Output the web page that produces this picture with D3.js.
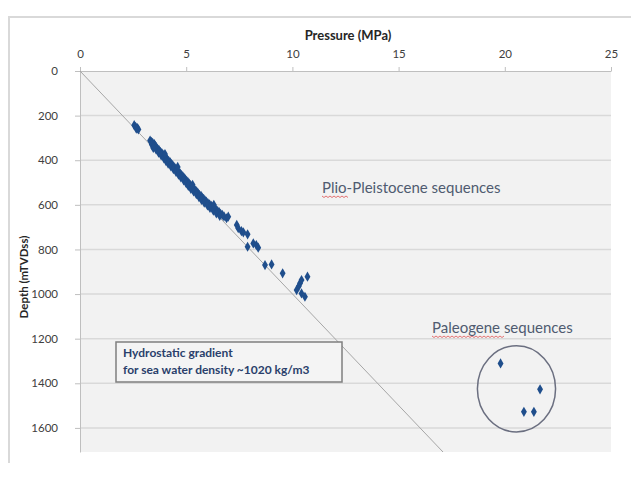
<!DOCTYPE html>
<html>
<head>
<meta charset="utf-8">
<script src="https://cdn.jsdelivr.net/npm/d3@7"></script>
<style>
  body { margin: 0; background: #fff; }
  text { font-family: Lato, "Open Sans", sans-serif; }
</style>
</head>
<body>
<script>
var width = 631,
    height = 479;

// pressure ticks (MPa) and depth ticks (mTVDss)
var pressureTicks = [0, 5, 10, 15, 20, 25];
var depthTicks = [0, 200, 400, 600, 800, 1000, 1200, 1400, 1600];

// Plio-Pleistocene measurements: [pressure MPa, depth m]
var plioPressure = [
  2.55, 2.62, 2.70, 2.75, 2.65,
  3.30, 3.36, 3.42, 3.38, 3.50, 3.55, 3.48, 3.60, 3.66, 3.58, 3.72, 3.78, 3.70, 3.85, 3.90,
  3.82, 3.96, 4.02, 3.95, 4.08, 4.12, 4.05, 4.18, 4.25, 4.15, 4.30, 4.36, 4.28, 4.42, 4.48,
  4.40, 4.55, 4.60, 4.52, 4.66, 4.72, 4.64, 4.78, 4.84, 4.75, 4.90, 4.96, 4.88, 5.02, 5.08,
  5.00, 5.14, 5.20, 5.10, 5.26, 5.32, 5.22, 5.38, 5.45, 5.35, 5.50, 5.56, 5.48, 5.62, 5.70,
  5.60, 5.75, 5.82, 5.72, 5.88, 5.95, 5.85, 6.02, 6.10, 6.00, 6.18, 6.25, 6.12, 6.32, 6.40,
  6.28, 6.48, 6.55, 6.42, 6.62, 6.70, 6.58, 6.78, 3.45, 4.00, 4.60, 5.30, 6.30,
  6.90, 6.98, 7.38, 7.45, 7.60, 7.69, 7.89, 7.89, 8.16, 8.30, 8.39, 8.71, 9.02, 9.54,
  10.36, 10.43, 10.71, 10.20, 10.43, 10.59, 10.30
];
var plioDepth = [
  243, 250, 256, 262, 258,
  312, 318, 322, 330, 328, 336, 340, 342, 350, 352, 355, 362, 366, 368, 374,
  378, 380, 386, 392, 392, 398, 404, 404, 410, 415, 417, 422, 428, 430, 436,
  440, 442, 448, 452, 455, 460, 465, 467, 472, 477, 480, 486, 490, 492, 498,
  503, 505, 511, 515, 518, 524, 528, 530, 536, 540, 542, 548, 552, 555, 560,
  565, 567, 573, 578, 580, 586, 590, 592, 598, 603, 604, 610, 614, 616, 620,
  626, 628, 633, 638, 640, 645, 650, 652, 345, 372, 430, 510, 600,
  660, 653, 690, 705, 718, 723, 732, 788, 773, 780, 792, 870, 867, 907,
  952, 937, 922, 982, 997, 1012, 965
];

// Paleogene measurements
var paleoPressure = [19.8, 21.66, 20.9, 21.37];
var paleoDepth = [1311, 1427, 1528, 1528];

// hydrostatic gradient, sea water ~1020 kg/m3 (MPa per m)
var gradient = 1020 * 9.81 / 1e6;

var x = d3.scaleLinear().domain([0, 25]).range([80, 611]);
var y = d3.scaleLinear().domain([0, 1708]).range([71, 452]);

var svg = d3.select("body").append("svg")
    .attr("width", width)
    .attr("height", height);

// outer chart frame
svg.append("path")
    .attr("d", "M9,463V17H631")
    .attr("fill", "none")
    .attr("stroke", "#d9d9d9")
    .attr("stroke-width", 2);

// plot area
svg.append("rect")
    .attr("x", x(0))
    .attr("y", y(0))
    .attr("width", x(25) - x(0))
    .attr("height", y(1708) - y(0))
    .attr("fill", "#f2f2f2");

// gridlines
svg.append("g")
  .selectAll("line")
    .data(depthTicks.slice(1))
  .enter().append("line")
    .attr("x1", x(0))
    .attr("x2", x(25))
    .attr("y1", function(d) { return y(d); })
    .attr("y2", function(d) { return y(d); })
    .attr("stroke", "#d9d9d9")
    .attr("stroke-width", 1.5);

// axes
var xAxis = svg.append("g")
    .attr("transform", "translate(0," + y(0) + ")")
    .call(d3.axisTop(x).tickValues(pressureTicks).tickSize(4).tickPadding(9)
      .tickSizeOuter(0).tickFormat(d3.format("d")));

var yAxis = svg.append("g")
    .attr("transform", "translate(" + x(0) + ",0)")
    .call(d3.axisLeft(y).tickValues(depthTicks).tickSize(5).tickPadding(17)
      .tickSizeOuter(0).tickFormat(d3.format("d")));

[xAxis, yAxis].forEach(function(a) {
  a.select(".domain").attr("stroke", "#bfbfbf");
  a.selectAll(".tick line").attr("stroke", "#bfbfbf");
  a.selectAll(".tick text")
    .attr("fill", "#404040")
    .style("font-size", "11.5px")
    .style("font-family", "Lato, sans-serif");
});

// axis titles
svg.append("text")
    .attr("x", 348)
    .attr("y", 40)
    .attr("text-anchor", "middle")
    .attr("fill", "#262626")
    .style("font-weight", "bold")
    .style("font-size", "13px")
    .text("Pressure (MPa)");

svg.append("text")
    .attr("transform", "translate(28,277) rotate(-90)")
    .attr("text-anchor", "middle")
    .attr("fill", "#262626")
    .style("font-weight", "bold")
    .style("font-size", "11.5px")
    .text("Depth (mTVDss)");

// hydrostatic line
svg.append("line")
    .attr("x1", x(0))
    .attr("y1", y(0))
    .attr("x2", x(gradient * 1708))
    .attr("y2", y(1708))
    .attr("stroke", "#a6a6a6")
    .attr("stroke-width", 1);

// points
var diamond = d3.symbol().type(d3.symbolDiamond).size(30);

var plio = plioPressure.map(function(p, i) { return [p, plioDepth[i]]; });
var paleo = paleoPressure.map(function(p, i) { return [p, paleoDepth[i]]; });

svg.append("g")
  .selectAll("path")
    .data(plio.concat(paleo))
  .enter().append("path")
    .attr("d", diamond)
    .attr("transform", function(d) { return "translate(" + x(d[0]) + "," + y(d[1]) + ")"; })
    .attr("fill", "#1f4e8c");

// ellipse round Paleogene points
svg.append("ellipse")
    .attr("cx", x(20.55))
    .attr("cy", y(1425))
    .attr("rx", x(20.55 + 1.84) - x(20.55))
    .attr("ry", y(1425 + 193) - y(1425))
    .attr("fill", "none")
    .attr("stroke", "#6b6f80")
    .attr("stroke-width", 1.5);

// annotation box
svg.append("rect")
    .attr("x", 116)
    .attr("y", 342)
    .attr("width", 226)
    .attr("height", 40)
    .attr("fill", "#f4f4f4")
    .attr("stroke", "#7f7f7f")
    .attr("stroke-width", 1.5);

svg.append("text")
    .attr("x", 123)
    .attr("y", 357)
    .attr("fill", "#2a3f6b")
    .style("font-weight", "bold")
    .style("font-size", "12px")
    .text("Hydrostatic gradient");

svg.append("text")
    .attr("x", 123)
    .attr("y", 374)
    .attr("fill", "#2a3f6b")
    .style("font-weight", "bold")
    .style("font-size", "12px")
    .text("for sea water density ~1020 kg/m3");

// sequence labels
function squiggle(x0, x1, yy) {
  var d = "M" + x0 + "," + yy;
  for (var xx = x0 + 2, k = 0; xx <= x1; xx += 2, k++) {
    d += "L" + xx + "," + (yy + (k % 2 ? 0 : 1.5));
  }
  svg.append("path")
      .attr("d", d)
      .attr("fill", "none")
      .attr("stroke", "#e05050")
      .attr("stroke-width", 0.8);
}

svg.append("text")
    .attr("x", 322)
    .attr("y", 193)
    .attr("fill", "#4f5b70")
    .style("font-size", "15px")
    .text("Plio-Pleistocene sequences");
squiggle(322, 348, 196);

svg.append("text")
    .attr("x", 432)
    .attr("y", 333)
    .attr("fill", "#4f5b70")
    .style("font-size", "15px")
    .text("Paleogene sequences");
squiggle(432, 504, 336);
</script>
</body>
</html>
